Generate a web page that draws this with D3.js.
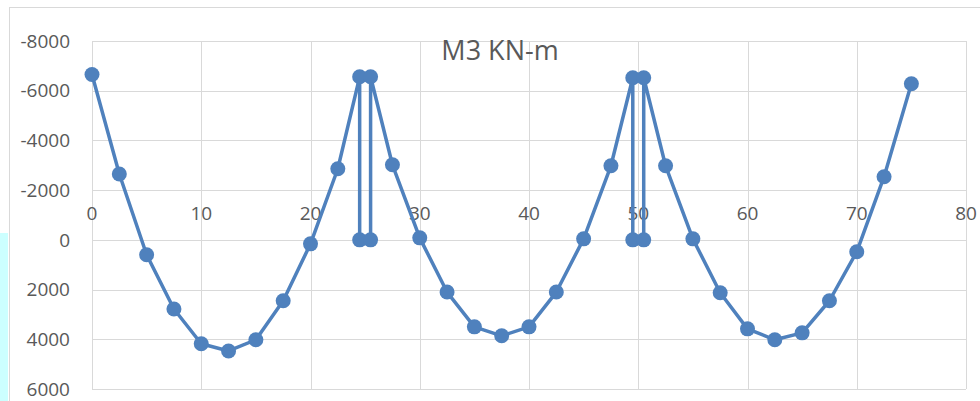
<!DOCTYPE html>
<html><head><meta charset="utf-8">
<script src="https://cdn.jsdelivr.net/npm/d3@7"></script>
<style>body{margin:0;background:#fff;}svg{display:block;font-family:"Open Sans",Calibri,sans-serif;}</style>
</head><body><div id="chart"></div>
<script>
// Data
let xValues = [0, 2.5, 5, 7.5, 10, 12.5, 15, 17.5, 20, 22.5, 24.5, 24.5, 25.5, 25.5, 27.5, 30, 32.5, 35, 37.5, 40, 42.5, 45, 47.5, 49.5, 49.5, 50.5, 50.5, 52.5, 55, 57.5, 60, 62.5, 65, 67.5, 70, 72.5, 75];
let m3Values = [-6650, -2650, 600, 2780, 4180, 4470, 4020, 2450, 160, -2860, -6560, 0, 0, -6560, -3020, -80, 2100, 3500, 3860, 3500, 2100, -40, -2980, -6520, 0, 0, -6520, -2980, -40, 2130, 3580, 4020, 3740, 2450, 480, -2540, -6280];
let xTicks = [0, 10, 20, 30, 40, 50, 60, 70, 80];
let yTicks = [-8000, -6000, -4000, -2000, 0, 2000, 4000, 6000];

let svgWidth = 980, svgHeight = 401;
let margin = {top: 41, right: 14, bottom: 12, left: 92};

let svg = d3.select("#chart").append("svg")
    .attr("width", svgWidth).attr("height", svgHeight);

// left cyan strip and chart border
svg.append("rect").attr("x", 0).attr("y", 233).attr("width", 8).attr("height", 168).attr("fill", "#ccffff");
svg.append("rect").attr("x", 9.5).attr("y", 7.5).attr("width", 980).attr("height", 400)
    .attr("fill", "none").attr("stroke", "#d9d9d9");

let x = d3.scaleLinear().domain([0, 80]).range([margin.left, 966]);
let y = d3.scaleLinear().domain([-8000, 6000]).range([margin.top, 389]);

let grid = svg.append("g").attr("stroke", "#d9d9d9").attr("stroke-width", 1);
grid.selectAll(".h").data(yTicks).enter().append("line")
    .attr("x1", x(0)).attr("x2", x(80))
    .attr("y1", d => Math.round(y(d)) + 0.5).attr("y2", d => Math.round(y(d)) + 0.5);
grid.selectAll(".v").data(xTicks).enter().append("line")
    .attr("y1", y(-8000)).attr("y2", y(6000))
    .attr("x1", d => Math.round(x(d)) + 0.5).attr("x2", d => Math.round(x(d)) + 0.5);

// y tick labels
svg.append("g").selectAll("text").data(yTicks).enter().append("text")
    .attr("x", 70).attr("y", d => y(d)).attr("dy", "0.35em")
    .attr("text-anchor", "end").attr("fill", "#595959").style("font-size", "19px")
    .text(d => d);

// x tick labels sit above the zero line
svg.append("g").selectAll("text").data(xTicks).enter().append("text")
    .attr("x", d => x(d)).attr("y", y(0) - 27).attr("dy", "0.35em")
    .attr("text-anchor", "middle").attr("fill", "#595959").style("font-size", "19px")
    .text(d => d);

svg.append("text").attr("x", 500).attr("y", 51).attr("dy", "0.35em")
    .attr("text-anchor", "middle").attr("fill", "#595959").style("font-size", "27px")
    .text("M3 KN-m");

let pts = xValues.map((d, i) => [d, m3Values[i]]);
let line = d3.line().x(d => x(d[0])).y(d => y(d[1]));
svg.append("path").datum(pts).attr("d", line)
    .attr("fill", "none").attr("stroke", "#4f81bd").attr("stroke-width", 3.5).attr("stroke-linejoin", "round");
svg.append("g").selectAll("circle").data(pts).enter().append("circle")
    .attr("cx", d => x(d[0])).attr("cy", d => y(d[1])).attr("r", 7.5).attr("fill", "#4f81bd");
</script></body></html>
